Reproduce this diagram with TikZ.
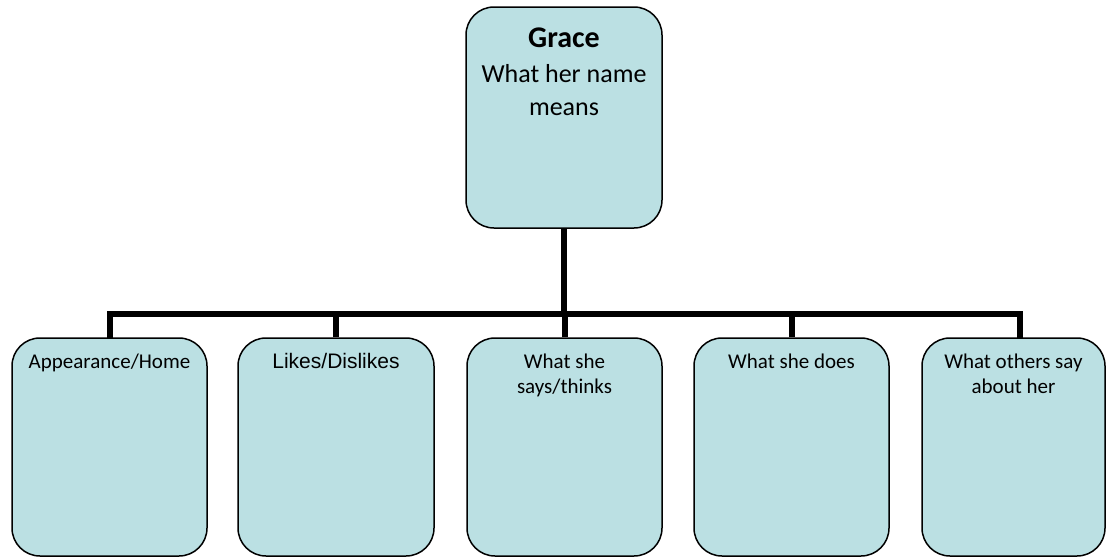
\documentclass[tikz,border=0pt]{standalone}
\usepackage{fontspec}
\setmainfont{Carlito}
\newfontfamily\arialfont{Liberation Sans}
\definecolor{boxfill}{RGB}{187,224,227}
\tikzset{
  box/.style={draw=black, line width=1.5pt, fill=boxfill, rounded corners=28pt, inner sep=0pt},
  conn/.style={line width=6pt, line join=miter, line cap=butt},
  big/.style={anchor=base, inner sep=0pt, font=\fontsize{26}{32}\selectfont},
  small/.style={anchor=base, inner sep=0pt, font=\fontsize{21}{25}\selectfont},
}
\begin{document}
\begin{tikzpicture}[x=1pt, y=-1pt]
\useasboundingbox (0,0) rectangle (1107,557);
% boxes
\node[box, minimum width=196pt, minimum height=221pt] (top) at (564,117.5) {};
\node[box, minimum width=195pt, minimum height=218pt] (b1) at (109.5,447) {};
\node[box, minimum width=196pt, minimum height=218pt] (b2) at (336,447) {};
\node[box, minimum width=195pt, minimum height=218pt] (b3) at (564.5,447) {};
\node[box, minimum width=195pt, minimum height=218pt] (b4) at (791.5,447) {};
\node[box, minimum width=183pt, minimum height=218pt] (b5) at (1013.5,447) {};
% connectors
\coordinate (bar) at (565,314);
\coordinate (d1) at (109.5,338);
\coordinate (d5) at (1019.5,338);
\draw[conn] (top.south) -- (top.south |- bar);
\draw[conn] (d1) -- (d1 |- bar) -- (d5 |- bar) -- (d5);
\draw[conn] (b2.north) -- (b2.north |- bar);
\draw[conn] (b3.north) -- (b3.north |- bar);
\draw[conn] (b4.north) -- (b4.north |- bar);
% texts
\node[big, font=\fontsize{30}{36}\selectfont\bfseries] (t1) at (564,47) {Grace};
\node[big] (t2) at (564,82) {What her name};
\node[big] (t3) at (564,115) {means};
\node[small] (l1) at (109.5,368) {Appearance/Home};
\node[small, font=\fontsize{21}{25}\selectfont\arialfont] (l2) at (336,368) {Likes/Dislikes};
\node[small] (l3a) at (564.5,368) {What she};
\node[small] (l3b) at (564.5,393) {says/thinks};
\node[small] (l4) at (791.5,368) {What she does};
\node[small] (l5a) at (1013.5,368) {What others say};
\node[small] (l5b) at (1013.5,393) {about her};
\end{tikzpicture}
\end{document}
